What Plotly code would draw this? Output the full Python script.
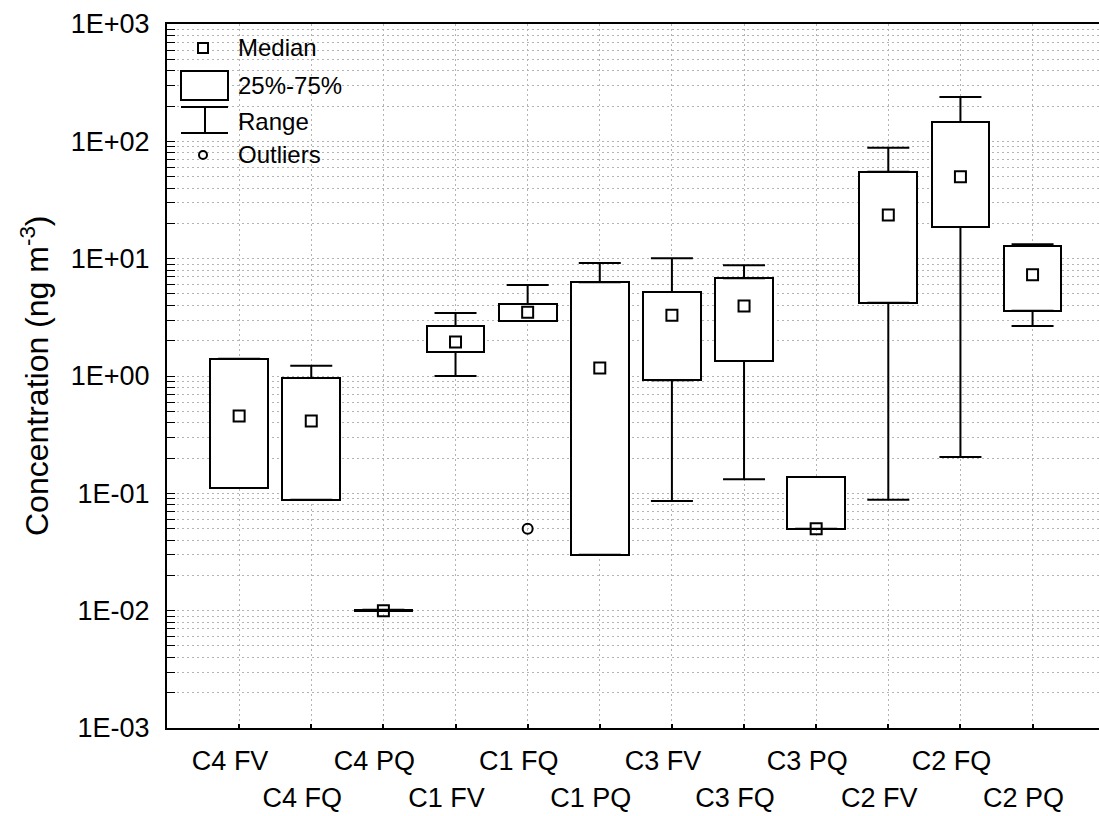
import numpy as np
import plotly.graph_objects as go

# ---------------- data ----------------
categories = ["C4 FV", "C4 FQ", "C4 PQ", "C1 FV", "C1 FQ", "C1 PQ",
              "C3 FV", "C3 FQ", "C3 PQ", "C2 FV", "C2 FQ", "C2 PQ"]
q1 = [0.111, 0.088, 0.0100, 1.60, 2.94, 0.030, 0.92, 1.34, 0.050, 4.2, 18.6, 3.6]
q3 = [1.40, 0.96, 0.0102, 2.67, 4.11, 6.3, 5.2, 6.8, 0.138, 55.0, 146.0, 12.8]
medians = [0.456, 0.413, 0.0100, 1.95, 3.5, 1.17, 3.3, 3.95, 0.050, 23.6, 50.0, 7.3]
mins = [0.111, 0.088, 0.0100, 1.00, 2.94, 0.030, 0.086, 0.132, 0.050, 0.088, 0.204, 2.67]
maxs = [1.40, 1.22, 0.0102, 3.44, 5.97, 9.2, 10.1, 8.8, 0.138, 88.0, 239.0, 13.3]
outlier_cats = ["C1 FQ"]
outlier_vals = [0.05]

ytick_vals = [1e-3, 1e-2, 1e-1, 1e0, 1e1, 1e2, 1e3]
ytick_text = ["1E-03", "1E-02", "1E-01", "1E+00", "1E+01", "1E+02", "1E+03"]
y_title = "Concentration (ng m<sup>-3</sup>)"
legend_labels = ["Median", "25%-75%", "Range", "Outliers"]

# ---------------- figure ----------------
FONT = "Liberation Sans, Arial, sans-serif"
W, H = 1099, 816
ML, MR, MT, MB = 167, 0, 24, 88
PW, PH = W - ML - MR, H - MT - MB

pos = np.arange(len(categories))
q1a, q3a = np.array(q1), np.array(q3)
mina, maxa = np.array(mins), np.array(maxs)

fig = go.Figure()

# 25%-75% boxes
fig.add_trace(go.Bar(
    x=pos, y=q3a - q1a, base=q1a, width=0.8,
    marker=dict(color="white", line=dict(color="black", width=2)),
    showlegend=False, hoverinfo="skip"))

# range whiskers (upper and lower) with caps
fig.add_trace(go.Scatter(
    x=pos, y=q3a, mode="markers", marker=dict(size=1, opacity=0),
    error_y=dict(type="data", symmetric=False, array=maxa - q3a,
                 arrayminus=np.zeros(len(pos)), width=21, thickness=2, color="black"),
    showlegend=False, hoverinfo="skip"))
fig.add_trace(go.Scatter(
    x=pos, y=q1a, mode="markers", marker=dict(size=1, opacity=0),
    error_y=dict(type="data", symmetric=False, array=np.zeros(len(pos)),
                 arrayminus=q1a - mina, width=21, thickness=2, color="black"),
    showlegend=False, hoverinfo="skip"))

# outliers
fig.add_trace(go.Scatter(
    x=[categories.index(c) for c in outlier_cats], y=outlier_vals, mode="markers",
    marker=dict(symbol="circle-open", size=10, color="black", line=dict(width=2)),
    showlegend=False))

# medians (on the overlaying axis carrying the 2nd row of labels)
fig.add_trace(go.Scatter(
    x=pos, y=medians, mode="markers", xaxis="x2",
    marker=dict(symbol="square-open", size=11, color="black", line=dict(width=2)),
    showlegend=False))

grid_col = "#b4b4b4"
grid_dash = "2px,3px"
xr = [-1, -1 + PW / 72.13]
TICKFONT = dict(size=27, family=FONT, color="black")

fig.update_layout(
    width=W, height=H,
    margin=dict(l=ML, r=MR, t=MT, b=MB),
    paper_bgcolor="white", plot_bgcolor="white",
    font=dict(family=FONT, color="black", size=22),
    showlegend=False, bargap=0,
    xaxis=dict(
        range=xr, tickmode="array", tickvals=pos[0::2], ticktext=categories[0::2],
        ticks="inside", ticklen=4, tickwidth=2, tickcolor="black",
        showline=True, linecolor="black", linewidth=2, mirror=True,
        showgrid=True, gridcolor=grid_col, griddash=grid_dash, gridwidth=1,
        zeroline=False, tickfont=TICKFONT, ticklabelstandoff=8, ticklabelshift=-9,
        minor=dict(tickmode="array", tickvals=pos[1::2], ticks="inside", ticklen=4,
                   tickwidth=2, tickcolor="black", showgrid=True, gridcolor=grid_col,
                   griddash=grid_dash, gridwidth=1)),
    xaxis2=dict(
        overlaying="x", matches="x", anchor="y", side="bottom",
        range=xr, tickmode="array", tickvals=pos[1::2],
        ticktext=categories[1::2], ticks="", showline=False, showgrid=False,
        zeroline=False, tickfont=TICKFONT, ticklabelstandoff=51, ticklabelshift=-9),
    yaxis=dict(
        type="log", range=[-3, 3], tickmode="array", tickvals=ytick_vals,
        ticktext=ytick_text, ticks="inside", ticklen=8, tickwidth=1, tickcolor="black",
        showline=True, linecolor="black", linewidth=2,
        showgrid=True, gridcolor=grid_col, griddash=grid_dash, gridwidth=1,
        zeroline=False, tickfont=TICKFONT, ticklabelstandoff=10,
        minor=dict(dtick="D1", ticks="inside", ticklen=8, tickwidth=1, tickcolor="black",
                   showgrid=True, gridcolor=grid_col, griddash=grid_dash, gridwidth=1)),
)

# y axis title
fig.add_annotation(
    text=y_title, xref="paper", yref="paper", x=(35 - ML) / PW, y=0.5,
    xanchor="center", yanchor="middle", textangle=-90, showarrow=False,
    font=dict(size=32, family=FONT, color="black"))


# ---------------- in-plot legend ----------------
def fx(px):
    return (px - ML) / PW


def fy(py):
    return (MT + PH - py) / PH


shapes = [
    dict(type="rect", xref="paper", yref="paper", x0=fx(198), x1=fx(208), y0=fy(53), y1=fy(43),
         line=dict(color="black", width=2), fillcolor="white"),
    dict(type="rect", xref="paper", yref="paper", x0=fx(181), x1=fx(228), y0=fy(100), y1=fy(71),
         line=dict(color="black", width=2), fillcolor="white"),
    dict(type="line", xref="paper", yref="paper", x0=fx(181), x1=fx(228), y0=fy(107), y1=fy(107),
         line=dict(color="black", width=2)),
    dict(type="line", xref="paper", yref="paper", x0=fx(181), x1=fx(228), y0=fy(133), y1=fy(133),
         line=dict(color="black", width=2)),
    dict(type="line", xref="paper", yref="paper", x0=fx(205), x1=fx(205), y0=fy(107), y1=fy(133),
         line=dict(color="black", width=2)),
    dict(type="circle", xref="paper", yref="paper", x0=fx(199), x1=fx(207), y0=fy(159), y1=fy(151),
         line=dict(color="black", width=2), fillcolor="white"),
]
fig.update_layout(shapes=shapes)

for lab, py in zip(legend_labels, [48, 86, 121, 155]):
    fig.add_annotation(text=lab, xref="paper", yref="paper", x=fx(236), y=fy(py),
                       xanchor="left", yanchor="middle", showarrow=False,
                       font=dict(size=24, family=FONT, color="black"))

fig.write_html("out.html")
